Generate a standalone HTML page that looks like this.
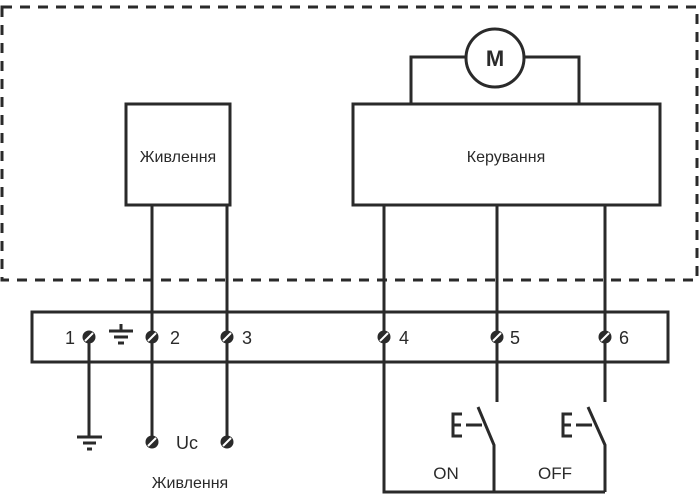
<!DOCTYPE html>
<html><head><meta charset="utf-8"><style>
html,body{margin:0;padding:0;background:#fff;}
svg{display:block;}
text{font-family:"Liberation Sans",sans-serif;fill:#2a2a2a;}
</style></head><body>
<svg width="700" height="500" viewBox="0 0 700 500" xmlns="http://www.w3.org/2000/svg">
<g fill="none" stroke="#2a2a2a">
<rect x="2" y="7" width="695" height="273" stroke-width="3" stroke-dasharray="10 8"/>
<g stroke-width="3">
<rect x="126" y="104" width="104" height="101"/>
<rect x="353" y="104" width="307" height="101"/>
<circle cx="495" cy="58" r="29"/>
<polyline points="466,57 411,57 411,104"/>
<polyline points="524,57 579,57 579,104"/>
<rect x="32" y="312" width="636" height="50"/>
<line x1="152" y1="205" x2="152" y2="442"/>
<line x1="227" y1="205" x2="227" y2="442"/>
<polyline points="384,205 384,492 605,492"/>
<line x1="89" y1="337" x2="89" y2="437"/>
<line x1="497" y1="205" x2="497" y2="402"/>
<line x1="605" y1="205" x2="605" y2="402"/>
<polyline points="478,407 494,445 494,492"/>
<polyline points="588,407 605,445 605,492"/>
<polyline points="462,414 453,414 453,436 462,436"/>
<line x1="453" y1="425" x2="461" y2="425"/>
<line x1="466" y1="425" x2="482" y2="425"/>
<polyline points="572,414 563,414 563,436 572,436"/>
<line x1="563" y1="425" x2="571" y2="425"/>
<line x1="576" y1="425" x2="592" y2="425"/>
<line x1="77" y1="437" x2="102" y2="437"/>
<line x1="83" y1="443" x2="96" y2="443"/>
<line x1="87" y1="449" x2="92" y2="449"/>
<line x1="109" y1="331" x2="133" y2="331"/>
<line x1="121" y1="324" x2="121" y2="331"/>
<line x1="114" y1="337" x2="128" y2="337"/>
<line x1="118" y1="343" x2="124" y2="343"/>
</g>
</g>
<g fill="#2a2a2a" stroke="#fff" stroke-width="2">
<g><circle cx="89" cy="337" r="6.5" stroke="none"/><line x1="85" y1="341" x2="93" y2="333"/></g>
<g><circle cx="152" cy="337" r="6.5" stroke="none"/><line x1="148" y1="341" x2="156" y2="333"/></g>
<g><circle cx="227" cy="337" r="6.5" stroke="none"/><line x1="223" y1="341" x2="231" y2="333"/></g>
<g><circle cx="384" cy="337" r="6.5" stroke="none"/><line x1="380" y1="341" x2="388" y2="333"/></g>
<g><circle cx="497" cy="337" r="6.5" stroke="none"/><line x1="493" y1="341" x2="501" y2="333"/></g>
<g><circle cx="605" cy="337" r="6.5" stroke="none"/><line x1="601" y1="341" x2="609" y2="333"/></g>
<g><circle cx="152" cy="442" r="6.5" stroke="none"/><line x1="148" y1="446" x2="156" y2="438"/></g>
<g><circle cx="227" cy="442" r="6.5" stroke="none"/><line x1="223" y1="446" x2="231" y2="438"/></g>
</g>
<text x="495" y="66" font-size="22" font-weight="bold" text-anchor="middle">M</text>
<text x="178" y="162" font-size="16" text-anchor="middle">Живлення</text>
<text x="506" y="162" font-size="16" text-anchor="middle">Керування</text>
<text x="65" y="344" font-size="18">1</text>
<text x="170" y="344" font-size="18">2</text>
<text x="242" y="344" font-size="18">3</text>
<text x="399" y="344" font-size="18">4</text>
<text x="510" y="344" font-size="18">5</text>
<text x="619" y="344" font-size="18">6</text>
<text x="176" y="449" font-size="18">Uc</text>
<text x="190" y="488" font-size="16" text-anchor="middle">Живлення</text>
<text x="446" y="479" font-size="17" text-anchor="middle">ON</text>
<text x="555" y="479" font-size="17" text-anchor="middle">OFF</text>
</svg>
</body></html>
